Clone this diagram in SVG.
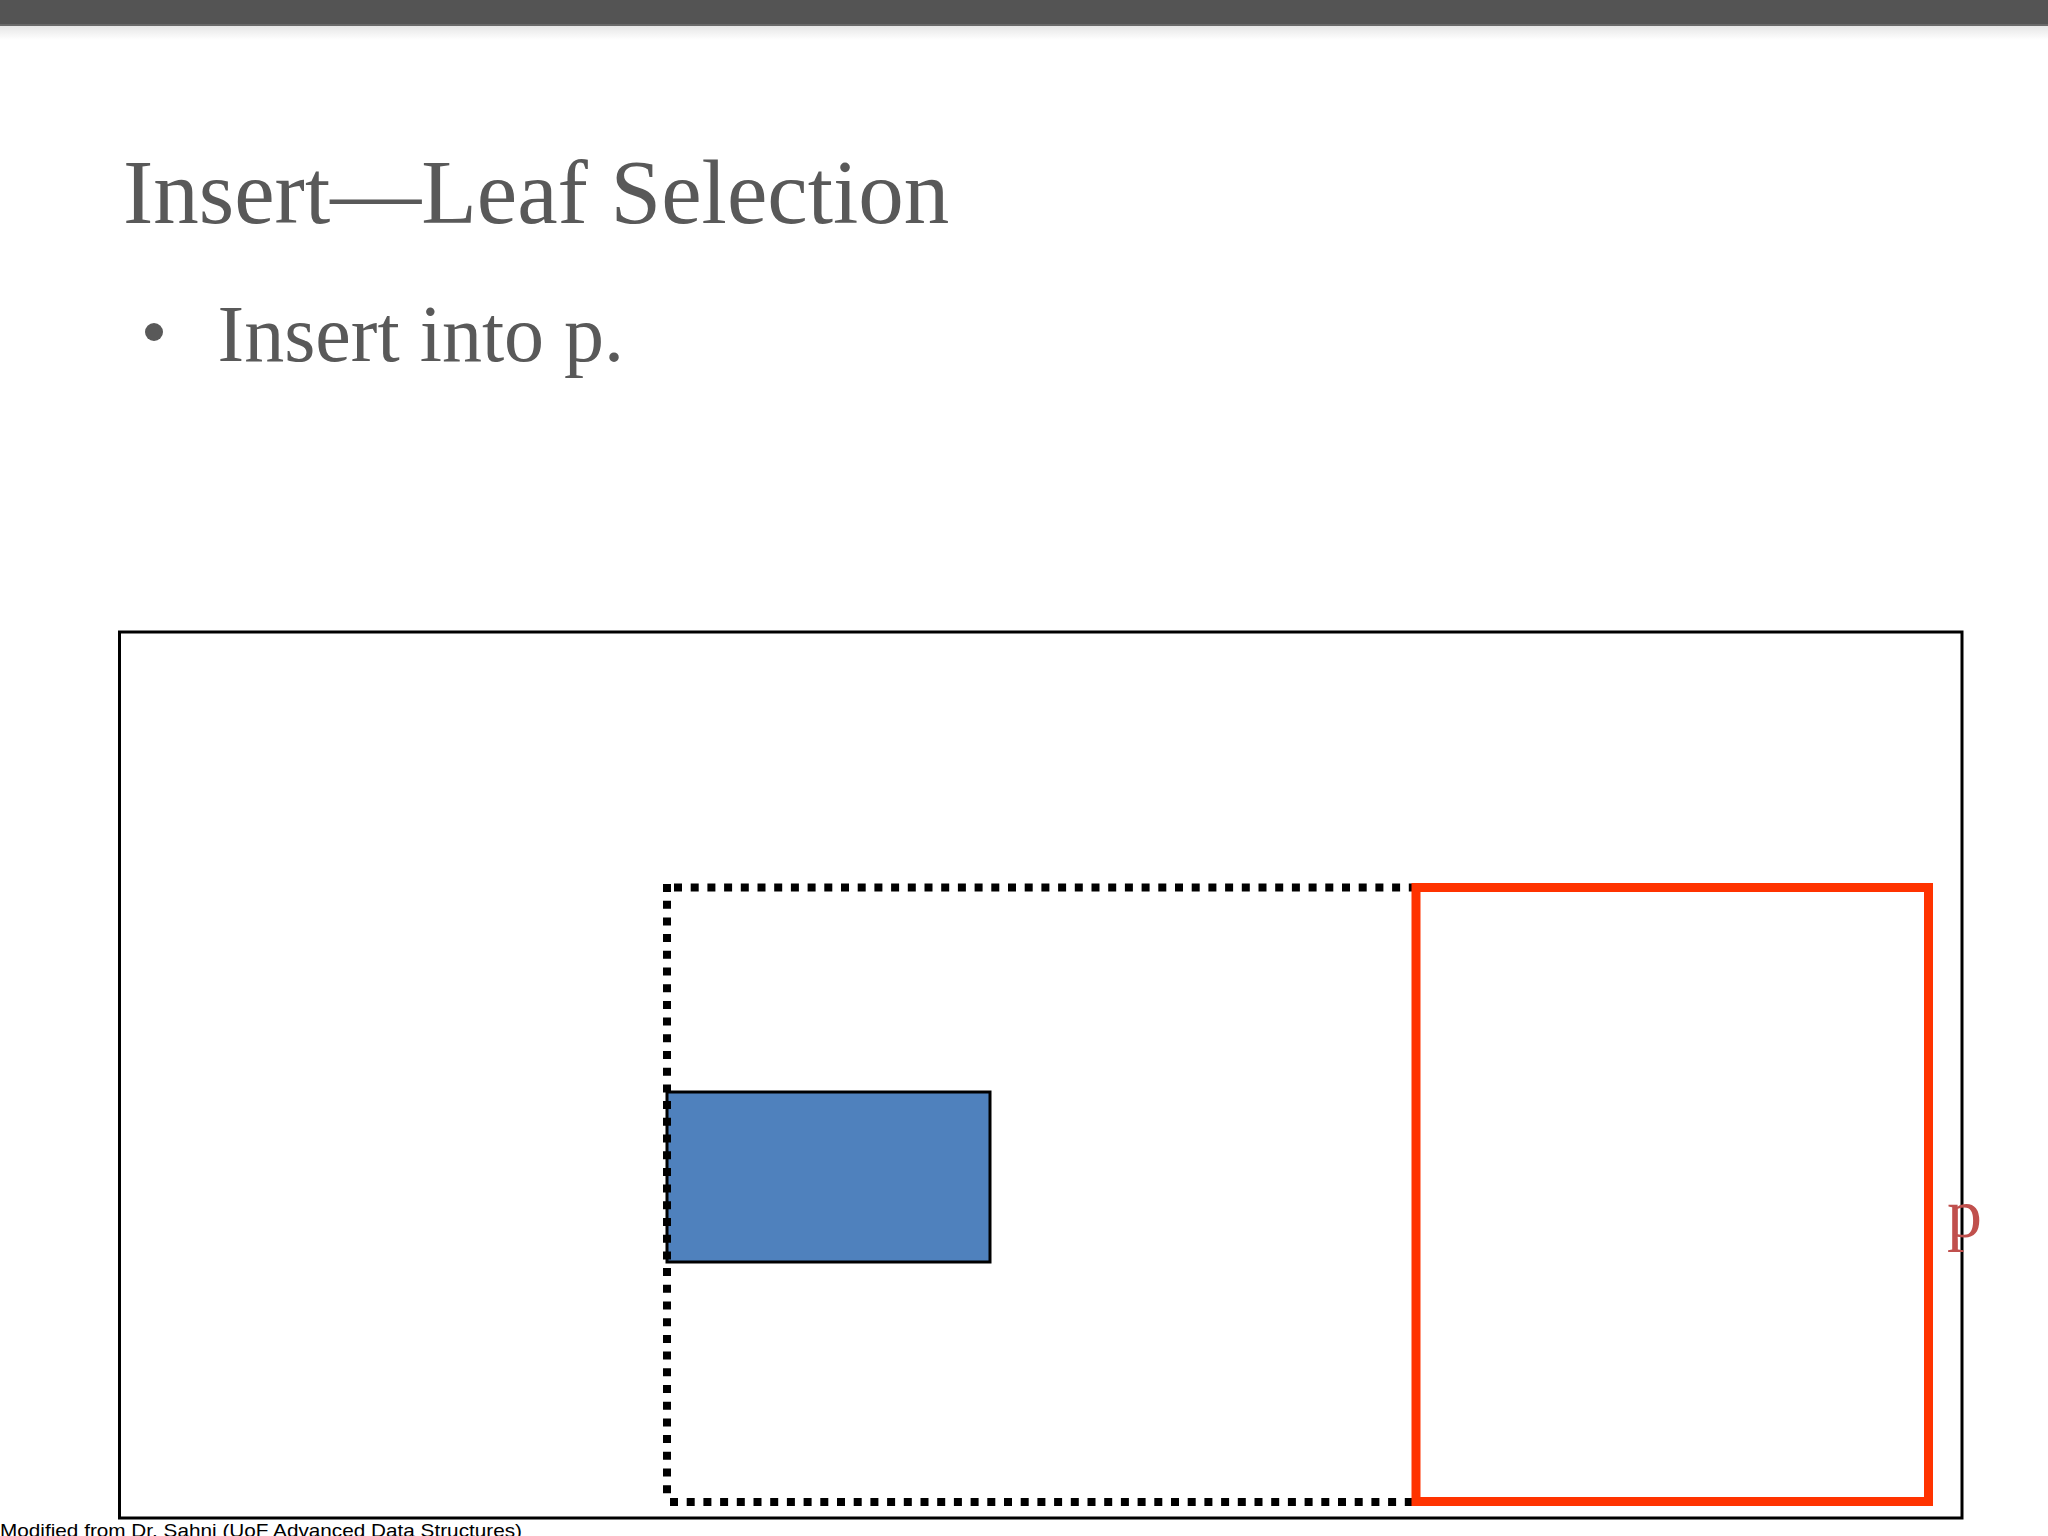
<svg xmlns="http://www.w3.org/2000/svg" width="2048" height="1536" viewBox="0 0 2048 1536">
  <defs>
    <linearGradient id="shadow" x1="0" y1="0" x2="0" y2="1">
      <stop offset="0" stop-color="#e6e6e6"/>
      <stop offset="1" stop-color="#ffffff"/>
    </linearGradient>
    <style>
      .slide-text { font-family: "Liberation Serif", "Times New Roman", serif; fill: #595959; }
      .dotted { fill: none; stroke: #000000; stroke-width: 8; stroke-dasharray: 8 8.7; }
    </style>
  </defs>
  <rect x="0" y="0" width="2048" height="1536" fill="#ffffff"/>
  <!-- top bar -->
  <rect x="0" y="0" width="2048" height="26" fill="#545454"/>
  <rect x="0" y="24" width="2048" height="2" fill="#6a6a6a"/>
  <rect x="0" y="26" width="2048" height="14" fill="url(#shadow)"/>

  <text class="slide-text" x="123" y="223" font-size="91">Insert—Leaf Selection</text>
  <circle cx="154" cy="332" r="9" fill="#595959"/>
  <text class="slide-text" x="217.5" y="361" font-size="80">Insert into p.</text>

  <g id="space">
    <rect x="119.5" y="632" width="1842.5" height="886" fill="none" stroke="#000000" stroke-width="3"/>
  </g>
  <g id="rectangle-new">
    <rect x="667" y="1092" width="323" height="170" fill="#4F81BD" stroke="#000000" stroke-width="3"/>
  </g>
  <g id="mbr-dotted">
    <path class="dotted" d="M674 887.5 H1416"/>
    <path class="dotted" d="M667 884 V1502"/>
    <path class="dotted" d="M670 1502 H1416"/>
  </g>
  <g id="node-p">
    <rect x="1416" y="887.5" width="512.5" height="614" fill="none" stroke="#FF3300" stroke-width="9"/>
    <text x="1947" y="1237" font-family="'Liberation Serif', 'Times New Roman', serif" font-size="70" fill="#C0504D">p</text>
  </g>
  <g id="connectors"/>

  <text x="0" y="1537" font-family="'Liberation Sans', Arial, sans-serif" font-size="19" fill="#000000" textLength="522" lengthAdjust="spacingAndGlyphs">Modified from Dr. Sahni (UoF Advanced Data Structures)</text>
</svg>
